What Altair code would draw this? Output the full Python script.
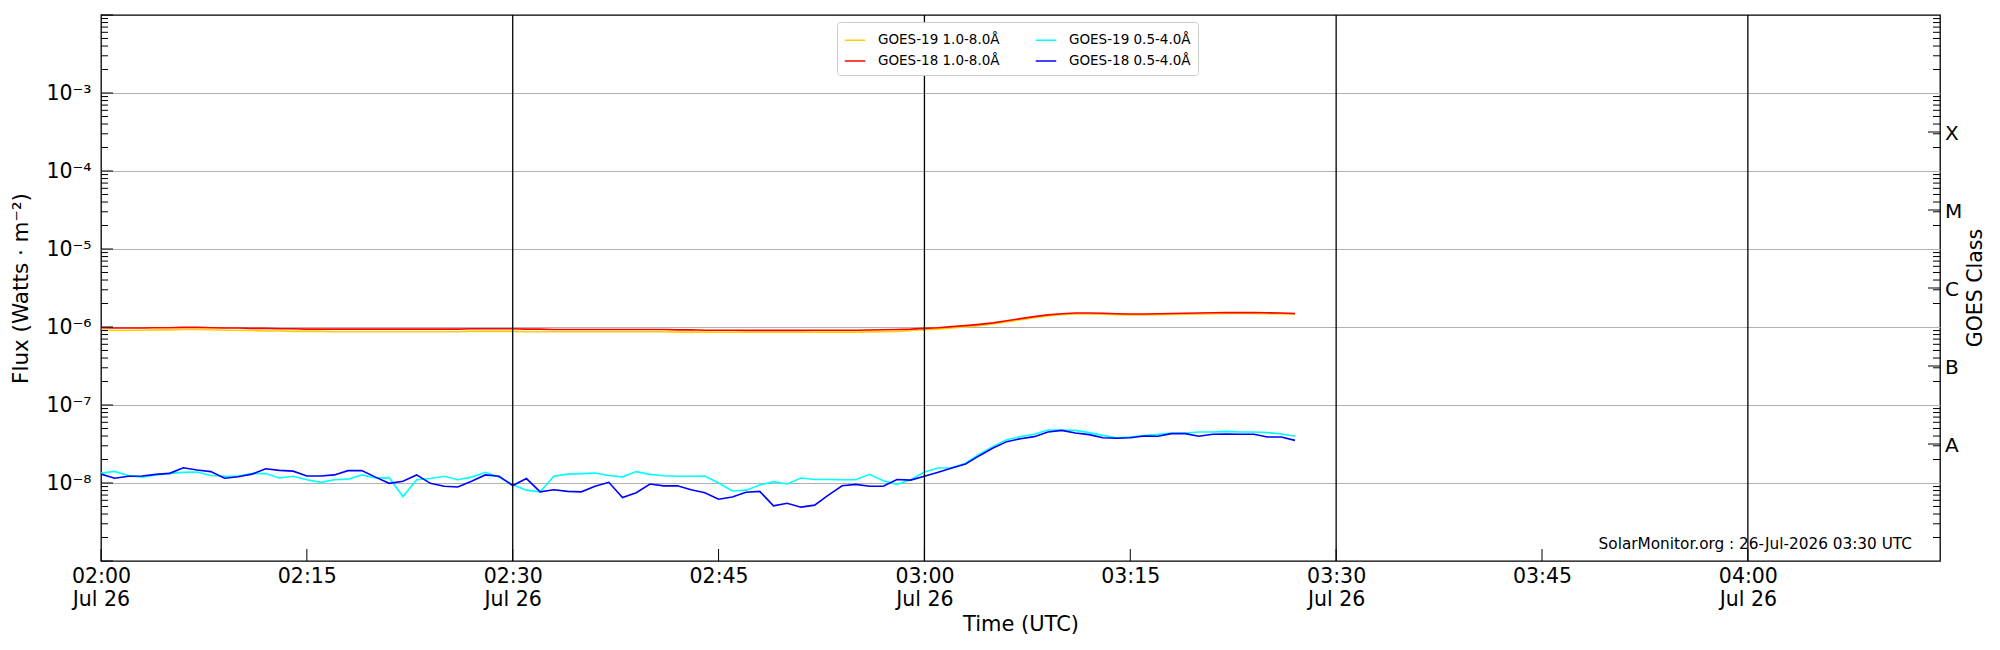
import altair as alt
import pandas as pd

# ---------------- data (1-minute cadence starting 02:00 UTC) ----------------
minutes = list(range(88))

g18_long = [0.98, 0.97, 0.97, 0.97, 0.98, 0.98, 0.99, 0.99, 0.98, 0.97,
            0.97, 0.96, 0.96, 0.95, 0.95, 0.94, 0.94, 0.94, 0.94, 0.94,
            0.94, 0.94, 0.94, 0.94, 0.94, 0.94, 0.94, 0.95, 0.95, 0.95,
            0.95, 0.94, 0.94, 0.93, 0.93, 0.93, 0.93, 0.93, 0.93, 0.93,
            0.93, 0.93, 0.92, 0.92, 0.91, 0.91, 0.91, 0.905, 0.905, 0.905,
            0.905, 0.905, 0.91, 0.91, 0.91, 0.91, 0.915, 0.92, 0.93, 0.94,
            0.96, 0.98, 1.01, 1.04, 1.08, 1.13, 1.20, 1.28, 1.36, 1.43,
            1.48, 1.51, 1.51, 1.50, 1.48, 1.47, 1.47, 1.48, 1.49, 1.50,
            1.51, 1.52, 1.53, 1.53, 1.53, 1.52, 1.51, 1.49]  # x 1e-6

g19_long = [0.91, 0.90, 0.90, 0.91, 0.92, 0.92, 0.93, 0.93, 0.92, 0.91,
            0.90, 0.90, 0.89, 0.89, 0.88, 0.88, 0.88, 0.87, 0.87, 0.87,
            0.87, 0.87, 0.87, 0.87, 0.87, 0.87, 0.87, 0.88, 0.88, 0.88,
            0.88, 0.87, 0.87, 0.87, 0.87, 0.87, 0.87, 0.87, 0.87, 0.87,
            0.87, 0.87, 0.86, 0.86, 0.86, 0.855, 0.855, 0.855, 0.855, 0.855,
            0.855, 0.855, 0.86, 0.86, 0.86, 0.86, 0.865, 0.87, 0.88, 0.90,
            0.92, 0.94, 0.97, 1.00, 1.04, 1.09, 1.16, 1.24, 1.32, 1.39,
            1.44, 1.47, 1.47, 1.46, 1.44, 1.43, 1.43, 1.44, 1.45, 1.46,
            1.47, 1.48, 1.49, 1.49, 1.49, 1.48, 1.47, 1.46]  # x 1e-6

g18_short = [1.30, 1.15, 1.22, 1.23, 1.29, 1.33, 1.57, 1.47, 1.40, 1.15,
             1.20, 1.30, 1.52, 1.45, 1.42, 1.23, 1.23, 1.27, 1.44, 1.44,
             1.19, 0.99, 1.05, 1.27, 0.99, 0.91, 0.89, 1.05, 1.27, 1.22,
             0.93, 1.14, 0.77, 0.82, 0.78, 0.77, 0.91, 1.02, 0.65, 0.75,
             0.97, 0.92, 0.92, 0.82, 0.75, 0.62, 0.66, 0.76, 0.78, 0.51,
             0.55, 0.49, 0.52, 0.70, 0.92, 0.96, 0.91, 0.91, 1.11, 1.09,
             1.22, 1.37, 1.56, 1.75, 2.24, 2.81, 3.39, 3.70, 3.93, 4.51,
             4.73, 4.38, 4.17, 3.81, 3.74, 3.81, 4.01, 3.97, 4.29, 4.29,
             3.97, 4.21, 4.25, 4.21, 4.21, 3.89, 3.89, 3.52]  # x 1e-8

g19_short = [1.34, 1.41, 1.25, 1.19, 1.27, 1.33, 1.37, 1.38, 1.25, 1.22,
             1.23, 1.32, 1.32, 1.16, 1.22, 1.10, 1.02, 1.10, 1.12, 1.27,
             1.16, 1.17, 0.67, 1.10, 1.14, 1.22, 1.10, 1.19, 1.37, 1.19,
             0.95, 0.81, 0.77, 1.22, 1.30, 1.32, 1.34, 1.25, 1.20, 1.40,
             1.29, 1.24, 1.22, 1.22, 1.23, 1.00, 0.79, 0.81, 0.94, 1.04,
             0.97, 1.16, 1.11, 1.11, 1.10, 1.10, 1.29, 1.07, 0.96, 1.10,
             1.38, 1.56, 1.57, 1.79, 2.35, 2.95, 3.59, 3.93, 4.21, 4.78,
             4.78, 4.73, 4.42, 4.08, 3.81, 3.89, 4.05, 4.21, 4.38, 4.38,
             4.51, 4.51, 4.59, 4.51, 4.51, 4.42, 4.25, 3.97]  # x 1e-8

SERIES = ["GOES-19 1.0-8.0Å", "GOES-18 1.0-8.0Å", "GOES-19 0.5-4.0Å", "GOES-18 0.5-4.0Å"]
COLORS = ["#FFD000", "#FF0000", "#00FFFF", "#0000FF"]
DRAW_ORDER = ["GOES-19 1.0-8.0Å", "GOES-18 1.0-8.0Å", "GOES-19 0.5-4.0Å", "GOES-18 0.5-4.0Å"]

x_tick_values = [0, 15, 30, 45, 60, 75, 90, 105, 120]
x_tick_labels = ["02:00", "02:15", "02:30", "02:45", "03:00", "03:15", "03:30", "03:45", "04:00"]
date_label = "Jul 26"
vline_minutes = [30, 60, 90, 120]

y_tick_values = [1e-8, 1e-7, 1e-6, 1e-5, 1e-4, 1e-3]
y_tick_labels = ["10⁻⁸", "10⁻⁷", "10⁻⁶", "10⁻⁵", "10⁻⁴", "10⁻³"]
decades = [1e-9, 1e-8, 1e-7, 1e-6, 1e-5, 1e-4, 1e-3, 1e-2]
minor_ticks = [k * d for d in decades[:-1] for k in range(2, 10)]

classes = ["A", "B", "C", "M", "X"]
class_pos = [10 ** -7.5, 10 ** -6.5, 10 ** -5.5, 10 ** -4.5, 10 ** -3.5]

stamp = "SolarMonitor.org : 26-Jul-2026 03:30 UTC"

# ---------------- tables ----------------
rows = []
for name, vals, scale in [("GOES-19 1.0-8.0Å", g19_long, 1e-6),
                          ("GOES-18 1.0-8.0Å", g18_long, 1e-6),
                          ("GOES-19 0.5-4.0Å", g19_short, 1e-8),
                          ("GOES-18 0.5-4.0Å", g18_short, 1e-8)]:
    for m, v in zip(minutes, vals):
        rows.append({"minute": m, "flux": v * scale, "series": name})
df = pd.DataFrame(rows)

W, H = 1839, 546
FONT = "DejaVu Sans"

xscale = alt.Scale(domain=[0, 134], nice=False, zero=False)
yscale = alt.Scale(type="log", domain=[1e-9, 1e-2], nice=False)

lbl_arr = "[" + ",".join("'%s'" % s for s in x_tick_labels) + "]"
x_label_expr = ("datum.value % 30 == 0 ? [" + lbl_arr + "[round(datum.value/15)], '" + date_label
                + "'] : " + lbl_arr + "[round(datum.value/15)]")
y_arr = "[" + ",".join("'%s'" % s for s in y_tick_labels) + "]"
y_label_expr = y_arr + "[round(log(datum.value)/LN10)+8]"

x_axis = alt.Axis(values=x_tick_values, labelExpr=x_label_expr, title="Time (UTC)",
                  grid=False, ticks=False, domain=False, labelFontSize=20.5,
                  labelLineHeight=23, labelPadding=5, labelFlush=False, labelOverlap=False,
                  titleFontSize=21, titleFontWeight="normal", titlePadding=4,
                  labelColor="black", titleColor="black")
y_axis = alt.Axis(values=y_tick_values, labelExpr=y_label_expr,
                  title="Flux (Watts · m⁻²)", grid=True, gridColor="#b0b0b0", gridWidth=1,
                  gridOpacity=1, ticks=False, domain=False, labelFontSize=20.5, labelPadding=10,
                  labelFlush=False, labelOverlap=False, titleFontSize=21.5,
                  titleFontWeight="normal", titlePadding=13,
                  labelColor="black", titleColor="black")

legend = alt.Legend(title=None, orient="none", legendX=736, legendY=7, columns=2,
                    symbolType="stroke", symbolSize=420, symbolStrokeWidth=1.5,
                    labelFontSize=13.5, labelFont=FONT, labelColor="black",
                    fillColor="white", strokeColor="#cccccc", padding=7,
                    cornerRadius=3, rowPadding=3, columnPadding=32, labelOffset=12,
                    labelLimit=400)

color = alt.Color("series:N", scale=alt.Scale(domain=SERIES, range=COLORS), legend=legend)

X = lambda f: alt.X(f, scale=xscale, axis=x_axis)
Y = lambda f: alt.Y(f, scale=yscale, axis=y_axis)

layers = []

# data lines
for s in DRAW_ORDER:
    layers.append(alt.Chart(df).transform_filter(alt.datum.series == s)
                  .mark_line(strokeWidth=1.6, clip=True).encode(
        x=X("minute:Q"), y=Y("flux:Q"), color=color))

# vertical black lines every 30 minutes
vdf = pd.DataFrame({"minute": vline_minutes})
layers.append(alt.Chart(vdf).mark_rule(color="black", strokeWidth=1.3).encode(
    x=X("minute:Q"), y=alt.value(0), y2=alt.value(H)))

# inward ticks
maj = pd.DataFrame({"flux": decades})
mnr = pd.DataFrame({"flux": minor_ticks})
cls = pd.DataFrame({"flux": class_pos, "c": classes})
xt = pd.DataFrame({"minute": x_tick_values})

def yticks(data, x0, x1):
    return alt.Chart(data).mark_rule(color="black", strokeWidth=1).encode(
        y=Y("flux:Q"), x=alt.value(x0), x2=alt.value(x1))

layers.append(yticks(maj, 0, 12))
layers.append(yticks(mnr, 0, 7))
layers.append(yticks(mnr, W - 7, W))
layers.append(yticks(cls, W - 12, W))
layers.append(alt.Chart(xt).mark_rule(color="black", strokeWidth=1).encode(
    x=X("minute:Q"), y=alt.value(H - 12), y2=alt.value(H)))

# GOES class labels on the right
layers.append(alt.Chart(cls).mark_text(align="left", baseline="middle", fontSize=20,
                                       dy=2, font=FONT, color="black").encode(
    y=Y("flux:Q"), x=alt.value(W + 5), text="c:N"))
layers.append(alt.Chart(pd.DataFrame({"t": ["GOES Class"]})).mark_text(
    angle=270, align="center", baseline="middle", fontSize=20.5, font=FONT, color="black").encode(
    x=alt.value(W + 36), y=alt.value(H / 2), text="t:N"))

# timestamp
layers.append(alt.Chart(pd.DataFrame({"t": [stamp]})).mark_text(
    align="right", baseline="alphabetic", fontSize=15.3, font=FONT, color="black").encode(
    x=alt.value(1811), y=alt.value(534), text="t:N"))

chart = alt.layer(*layers).properties(
    width=W, height=H,
    autosize=alt.AutoSizeParams(type="none"),
    padding={"left": 93, "top": 7, "right": 52, "bottom": 81},
).configure_view(stroke="black", strokeWidth=1.3).configure_axis(
    labelFont=FONT, titleFont=FONT).configure_legend(labelFont=FONT).configure_text(font=FONT)

chart.save("out.html", embed_options={"renderer": "svg", "actions": False})
